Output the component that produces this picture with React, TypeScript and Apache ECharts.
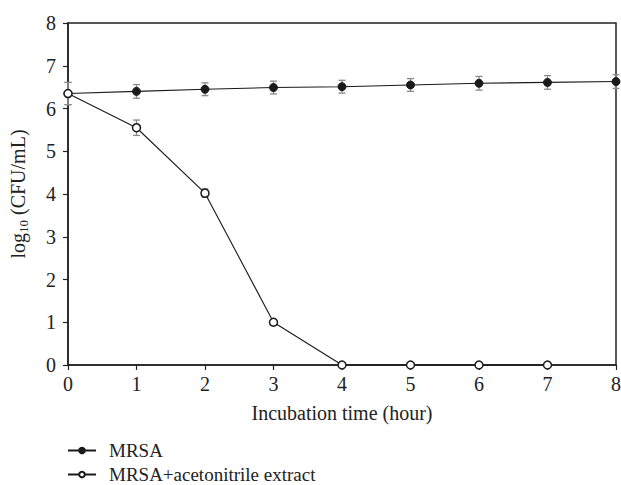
import React, { useEffect, useRef } from "react";
import * as echarts from "echarts";

const hours = [0, 1, 2, 3, 4, 5, 6, 7, 8];
const mrsa = [6.35, 6.4, 6.45, 6.49, 6.51, 6.55, 6.59, 6.61, 6.63];
const mrsaErr = [0.26, 0.16, 0.15, 0.15, 0.15, 0.15, 0.16, 0.16, 0.16];
const extractHours = [0, 1, 2, 3, 4, 5, 6, 7];
const extract = [6.35, 5.55, 4.02, 1.0, 0, 0, 0, 0];
const extractErr = [0.26, 0.18, 0.1, 0.06, 0, 0, 0, 0];
const xTicks = ["0", "1", "2", "3", "4", "5", "6", "7", "8"];

const FONT = "Liberation Serif";
const FS = 20;

function errSeries(xs: number[], ys: number[], es: number[]) {
  return {
    type: "custom",
    silent: true,
    z: 1,
    clip: false,
    data: xs.map((x, i) => [x, ys[i] - es[i], ys[i] + es[i]]).filter((d) => d[2] - d[1] > 0),
    renderItem: (params: any, api: any) => {
      const x = api.value(0);
      const lo = api.coord([x, api.value(1)]);
      const hi = api.coord([x, api.value(2)]);
      const w = 3.5;
      const style = { stroke: "#8a8a8a", lineWidth: 1.3 };
      return {
        type: "group",
        children: [
          { type: "line", shape: { x1: lo[0], y1: lo[1], x2: hi[0], y2: hi[1] }, style },
          { type: "line", shape: { x1: lo[0] - w, y1: lo[1], x2: lo[0] + w, y2: lo[1] }, style },
          { type: "line", shape: { x1: hi[0] - w, y1: hi[1], x2: hi[0] + w, y2: hi[1] }, style },
        ],
      };
    },
  };
}

const legendBase = {
  orient: "vertical",
  left: 67,
  itemWidth: 28,
  itemHeight: 7,
  padding: 0,
  textStyle: { fontFamily: FONT, fontSize: 19, lineHeight: 19, color: "#222", padding: [0, 0, 0, 8] },
};

export default function App() {
  const ref = useRef<HTMLDivElement>(null);
  useEffect(() => {
    const chart = echarts.init(ref.current!, null, { renderer: "svg" });
    chart.setOption({
      animation: false,
      backgroundColor: "#fff",
      textStyle: { fontFamily: FONT },
      grid: {
        left: 68,
        right: 5,
        top: 23,
        bottom: 120,
        show: true,
        borderColor: "#222",
        borderWidth: 1.5,
        containLabel: false,
        outerBoundsMode: "none",
      },
      legend: [
        { ...legendBase, top: 441, data: ["MRSA"] },
        { ...legendBase, top: 465, data: ["MRSA+acetonitrile extract"] },
      ],
      xAxis: {
        type: "value",
        min: 0,
        max: 8,
        interval: 1,
        name: "Incubation time (hour)",
        nameLocation: "middle",
        nameGap: 38,
        nameTextStyle: { fontFamily: FONT, fontSize: FS, color: "#222" },
        axisLine: { show: true, lineStyle: { color: "#222", width: 1.5 } },
        axisTick: { show: true, inside: false, length: 5, lineStyle: { color: "#222", width: 1.2 } },
        axisLabel: {
          fontFamily: FONT,
          fontSize: FS,
          color: "#222",
          margin: 9,
          formatter: (v: number) => xTicks[v] ?? String(v),
        },
        splitLine: { show: false },
      },
      yAxis: {
        type: "value",
        min: 0,
        max: 8,
        interval: 1,
        name: "{a|log}{b|10}{a| (CFU/mL)}",
        nameLocation: "middle",
        nameGap: 38,
        nameTextStyle: {
          rich: {
            a: { fontFamily: FONT, fontSize: FS, color: "#222", lineHeight: 24, verticalAlign: "middle" },
            b: { fontFamily: FONT, fontSize: 13, color: "#222", lineHeight: 24, verticalAlign: "bottom" },
          },
        },
        axisLine: { show: true, lineStyle: { color: "#222", width: 1.5 } },
        axisTick: { show: true, inside: false, length: 5, lineStyle: { color: "#222", width: 1.2 } },
        axisLabel: { fontFamily: FONT, fontSize: FS, color: "#222", margin: 12 },
        splitLine: { show: false },
      },
      series: [
        errSeries(hours, mrsa, mrsaErr),
        errSeries(extractHours, extract, extractErr),
        {
          name: "MRSA",
          type: "line",
          data: hours.map((h, i) => [h, mrsa[i]]),
          symbol: "circle",
          symbolSize: 8,
          clip: false,
          z: 3,
          lineStyle: { color: "#1a1a1a", width: 1.1 },
          itemStyle: { color: "#1a1a1a", borderColor: "#1a1a1a", borderWidth: 1 },
        },
        {
          name: "MRSA+acetonitrile extract",
          type: "line",
          data: extractHours.map((h, i) => [h, extract[i]]),
          symbol: "circle",
          symbolSize: 8,
          clip: false,
          z: 4,
          lineStyle: { color: "#1a1a1a", width: 1.1 },
          itemStyle: { color: "#ffffff", borderColor: "#1a1a1a", borderWidth: 1.5 },
        },
      ],
    });
    return () => chart.dispose();
  }, []);
  return <div ref={ref} style={{ width: 621, height: 485, position: "absolute", left: 0, top: 0 }} />;
}
